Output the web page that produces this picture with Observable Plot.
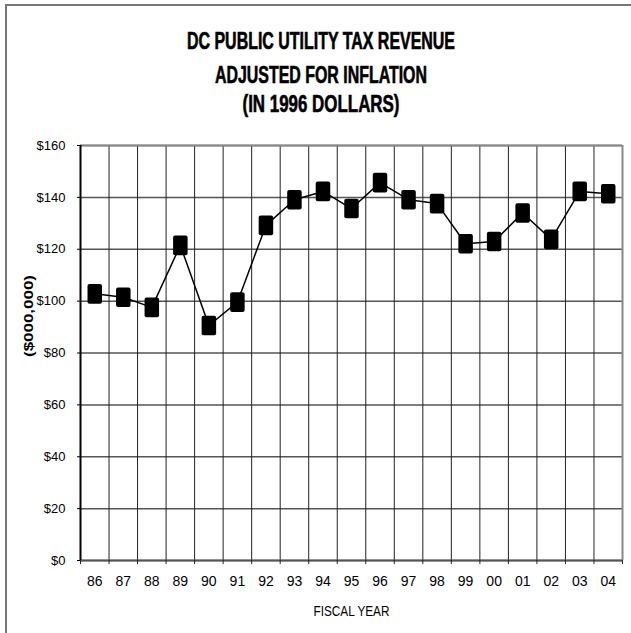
<!DOCTYPE html>
<html><head><meta charset="utf-8">
<script src="https://cdn.jsdelivr.net/npm/d3@7"></script>
<script src="https://cdn.jsdelivr.net/npm/@observablehq/plot@0.6"></script>
<style>
body{margin:0;background:#fff;}
#wrap{position:relative;width:631px;height:633px;overflow:hidden;background:#fff;}
#frame{position:absolute;left:5px;top:4px;width:640px;height:640px;border-left:2px solid #777;border-top:2px solid #777;}
#title{position:absolute;left:0;top:0;}
#chart{position:absolute;left:0;top:120px;}
</style></head><body>
<div id="wrap"><div id="frame"></div><svg id="title" width="631" height="120"></svg><div id="chart"></div></div>
<script>
const years = ["86","87","88","89","90","91","92","93","94","95","96","97","98","99","00","01","02","03","04"];
const revenue = [102.8, 101.5, 97.6, 121.5, 90.6, 99.6, 129.2, 139.1, 142.3, 135.7, 145.7, 139.1, 137.6, 122.1, 123.0, 134.0, 123.8, 142.3, 141.4];
const yTicks = [0, 20, 40, 60, 80, 100, 120, 140, 160];
const titleLines = ["DC PUBLIC UTILITY TAX REVENUE", "ADJUSTED FOR INFLATION", "(IN 1996 DOLLARS)"];
const xLabel = "FISCAL YEAR";
const yLabel = "($000,000)";

const narrow = "'Liberation Sans Narrow','Arial Narrow','Liberation Sans',Arial,sans-serif";

// title
const tsvg = d3.select("#title");
const titleBase = [49, 83, 112];
const titleLen = [268, 212, 157];
titleLines.forEach((t, k) => {
  tsvg.append("text").attr("x", 321).attr("y", titleBase[k]).attr("text-anchor", "middle")
    .attr("font-family", "'Liberation Sans',Arial,sans-serif").attr("font-weight", "bold").attr("font-size", 23)
    .attr("stroke", "#000").attr("stroke-width", 0.6)
    .attr("textLength", titleLen[k]).attr("lengthAdjust", "spacingAndGlyphs").text(t);
});

const data = years.map((y, i) => ({i, year: y, v: revenue[i]}));

const rectSymbol = {
  draw(ctx, size) {
    const r = Math.sqrt(size / Math.PI);
    const w = r * 0.74, h = r, c = 2;
    ctx.moveTo(-w + c, -h);
    ctx.lineTo(w - c, -h); ctx.arcTo(w, -h, w, -h + c, c);
    ctx.lineTo(w, h - c); ctx.arcTo(w, h, w - c, h, c);
    ctx.lineTo(-w + c, h); ctx.arcTo(-w, h, -w, h - c, c);
    ctx.lineTo(-w, -h + c); ctx.arcTo(-w, -h, -w + c, -h, c);
    ctx.closePath();
  }
};

const n = years.length;
const chart = Plot.plot({
  width: 631, height: 513,
  marginTop: 25, marginBottom: 73, marginLeft: 80, marginRight: 9,
  style: {fontFamily: narrow, fontSize: "12px", color: "#000", background: "transparent", overflow: "visible"},
  x: {type: "linear", domain: [0, n]},
  y: {domain: [0, 160]},
  marks: [
    Plot.gridY(yTicks, {stroke: "#555", strokeOpacity: 1, strokeWidth: 1.5}),
    Plot.gridX(d3.range(n + 1), {stroke: "#222", strokeOpacity: 1, strokeWidth: 1}),
    Plot.ruleX([n], {stroke: "#888", strokeWidth: 2}),
    Plot.ruleY([160], {stroke: "#888", strokeWidth: 2}),
    Plot.ruleY([0], {stroke: "#555", strokeWidth: 2}),
    Plot.ruleX([0], {stroke: "#000", strokeWidth: 2}),
    Plot.axisY(yTicks, {tickSize: 3, tickPadding: 12, tickFormat: d => "$" + d, label: null, fontSize: 13}),
    Plot.axisX(d3.range(n + 1), {tickSize: 4, tickFormat: () => "", label: null, stroke: "#222"}),
    Plot.axisX(d3.range(n).map(i => i + 0.5), {tickSize: 0, tickPadding: 16, tickFormat: d => years[Math.floor(d)], label: null, fontSize: 14}),
    Plot.line(data, {x: d => d.i + 0.5, y: "v", stroke: "#000", strokeWidth: 1.5}),
    Plot.dot(data, {x: d => d.i + 0.5, y: "v", symbol: rectSymbol, r: 9.8, fill: "#000", stroke: "none"}),
    Plot.text([yLabel], {frameAnchor: "left", dx: -52, dy: 4, rotate: -90, fontSize: 13, fontWeight: "bold", className: "ylab"}),
    Plot.text([xLabel], {frameAnchor: "bottom", dy: 55, fontSize: 15, className: "xlab"})
  ]
});
document.getElementById("chart").appendChild(chart);
d3.select(chart).selectAll(".ylab text").attr("textLength", 82).attr("lengthAdjust", "spacingAndGlyphs");
d3.select(chart).selectAll(".xlab text").attr("textLength", 76).attr("lengthAdjust", "spacingAndGlyphs");
</script>
</body></html>
